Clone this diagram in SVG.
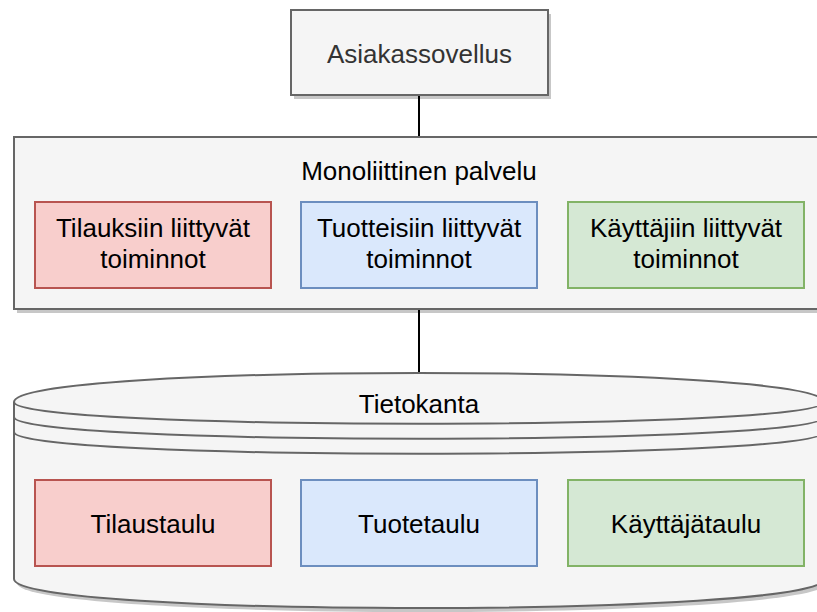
<svg xmlns="http://www.w3.org/2000/svg" width="817" height="612" viewBox="0 0 817 612">
  <style>
    .lbl { font-family: "Liberation Sans", Arial, Helvetica, sans-serif; font-size: 26px; text-anchor: middle; fill: #000000; }
    .muted { fill: #333333; }
    .gray { fill: #f5f5f5; stroke: #666666; stroke-width: 2; }
    .shadow { fill: #000000; opacity: 0.22; stroke: none; }
    .red { fill: #f8cecc; stroke: #b85450; stroke-width: 2; }
    .blue { fill: #dae8fc; stroke: #6c8ebf; stroke-width: 2; }
    .green { fill: #d5e8d4; stroke: #82b366; stroke-width: 2; }
    .ring { fill: none; stroke: #666666; stroke-width: 2; }
    .edge { fill: none; stroke: #000000; stroke-width: 2; }
  </style>
  <rect width="817" height="612" fill="#ffffff"/>

  <!-- connectors -->
  <g id="connectors">
    <line class="edge" x1="419" y1="95" x2="419" y2="137"/>
    <line class="edge" x1="419" y1="309" x2="419" y2="373"/>
  </g>

  <!-- client application -->
  <g id="asiakassovellus">
    <rect class="shadow" x="294" y="14" width="257" height="85"/>
    <rect class="gray" x="291" y="10" width="257" height="85"/>
    <text class="lbl muted" x="419.5" y="63">Asiakassovellus</text>
  </g>

  <!-- monolithic service container -->
  <g id="monoliitti">
    <rect class="shadow" x="17" y="141" width="810" height="172"/>
    <rect class="gray" x="14" y="137" width="810" height="172"/>
    <text class="lbl" x="419" y="180">Monoliittinen palvelu</text>
  </g>

  <g id="tilaukset">
    <rect class="red" x="35" y="202" width="236" height="86"/>
    <text class="lbl" x="153" y="237">Tilauksiin liittyvät</text>
    <text class="lbl" x="153" y="268">toiminnot</text>
  </g>

  <g id="tuotteet">
    <rect class="blue" x="301" y="202" width="236" height="86"/>
    <text class="lbl" x="419" y="237">Tuotteisiin liittyvät</text>
    <text class="lbl" x="419" y="268">toiminnot</text>
  </g>

  <g id="kayttajat">
    <rect class="green" x="568" y="202" width="236" height="86"/>
    <text class="lbl" x="686" y="237">Käyttäjiin liittyvät</text>
    <text class="lbl" x="686" y="268">toiminnot</text>
  </g>

  <!-- database cylinder -->
  <g id="tietokanta">
    <path class="shadow" d="M17,406 C17,367.33 827,367.33 827,406 L827,583 C827,621.67 17,621.67 17,583 Z"/>
    <path class="gray" d="M14,402 C14,363.33 824,363.33 824,402 L824,579 C824,617.67 14,617.67 14,579 Z"/>
    <path class="ring" d="M14,402 C14,431 824,431 824,402"/>
    <path class="ring" d="M14,417 C14,446 824,446 824,417"/>
    <path class="ring" d="M14,432 C14,461 824,461 824,432"/>
    <text class="lbl" x="419" y="413">Tietokanta</text>
  </g>

  <g id="tilaustaulu">
    <rect class="red" x="35" y="480" width="236" height="86"/>
    <text class="lbl" x="153" y="533">Tilaustaulu</text>
  </g>

  <g id="tuotetaulu">
    <rect class="blue" x="301" y="480" width="236" height="86"/>
    <text class="lbl" x="419" y="533">Tuotetaulu</text>
  </g>

  <g id="kayttajataulu">
    <rect class="green" x="568" y="480" width="236" height="86"/>
    <text class="lbl" x="686" y="533">Käyttäjätaulu</text>
  </g>
</svg>
